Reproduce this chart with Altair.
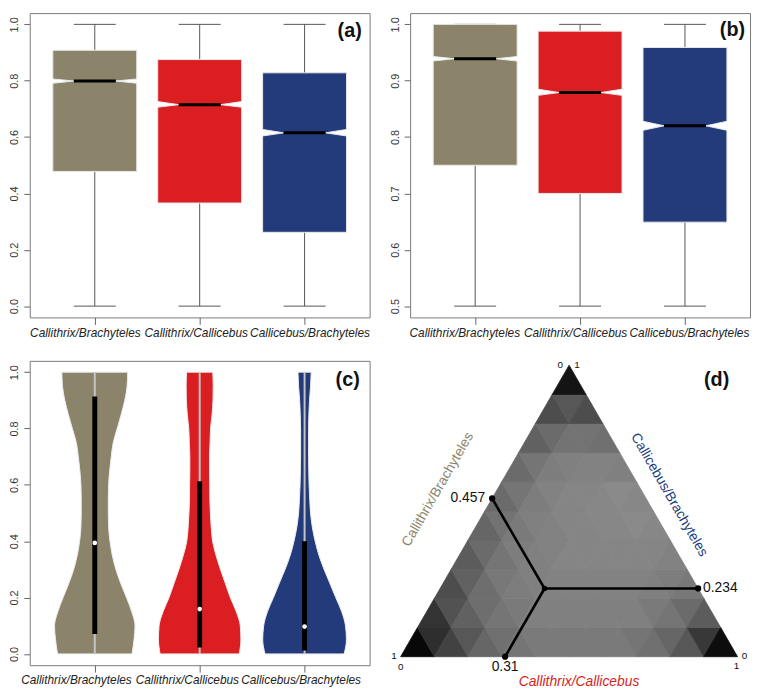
import altair as alt
import pandas as pd

# ---------------- data ----------------
groups = ["Callithrix/Brachyteles", "Callithrix/Callicebus", "Callicebus/Brachyteles"]
positions = [1, 2, 3]
colors = ["#8C846A", "#DA1E22", "#233B7B"]

# panel (a): notched boxplots
a_min = [0.0, 0.0, 0.0]
a_q1 = [0.478, 0.366, 0.262]
a_notch_lo = [0.791, 0.706, 0.604]
a_median = [0.799, 0.715, 0.615]
a_notch_hi = [0.806, 0.726, 0.627]
a_q3 = [0.908, 0.875, 0.828]
a_max = [1.0, 1.0, 1.0]

# panel (b): notched boxplots
b_min = [0.5, 0.5, 0.5]
b_q1 = [0.750, 0.700, 0.649]
b_notch_lo = [0.935, 0.874, 0.812]
b_median = [0.939, 0.879, 0.820]
b_notch_hi = [0.943, 0.885, 0.828]
b_q3 = [1.000, 0.988, 0.959]
b_max = [1.0, 1.0, 1.0]

# panel (c): violins (half widths in x units, read at each y level)
violin_y = [0.00, 0.05, 0.10, 0.15, 0.20, 0.25, 0.30, 0.35, 0.40, 0.45, 0.50,
            0.55, 0.60, 0.65, 0.70, 0.75, 0.80, 0.85, 0.90, 0.95, 1.00]
violin_tan = [0.355, 0.374, 0.384, 0.352, 0.302, 0.248, 0.201, 0.167, 0.145, 0.132, 0.129,
              0.129, 0.132, 0.142, 0.157, 0.176, 0.214, 0.252, 0.286, 0.308, 0.314]
violin_red = [0.377, 0.393, 0.387, 0.349, 0.292, 0.245, 0.198, 0.156, 0.123, 0.110, 0.102,
              0.097, 0.096, 0.094, 0.094, 0.099, 0.104, 0.118, 0.127, 0.129, 0.125]
violin_blue = [0.377, 0.399, 0.390, 0.354, 0.297, 0.242, 0.186, 0.137, 0.101, 0.074, 0.057,
               0.049, 0.043, 0.040, 0.038, 0.038, 0.038, 0.041, 0.047, 0.057, 0.063]
c_min = [0.0, 0.0, 0.0]
c_q1 = [0.071, 0.023, 0.012]
c_median = [0.394, 0.159, 0.097]
c_q3 = [0.914, 0.613, 0.400]
c_max = [1.0, 1.0, 1.0]

# panel (d): ternary plot
tern_left = 0.457    # Callithrix/Brachyteles
tern_right = 0.234   # Callicebus/Brachyteles
tern_bottom = 0.31   # Callithrix/Callicebus
# point cloud density (share of ink) on a 10-row triangular lattice, bottom row first,
# cells left to right alternating upward / downward triangles
density_rows = [
    [0.97, 0.82, 0.74, 0.66, 0.60, 0.56, 0.54, 0.52, 0.52, 0.52, 0.52, 0.52, 0.52, 0.54, 0.56, 0.60, 0.66, 0.78, 0.95],
    [0.80, 0.68, 0.62, 0.57, 0.54, 0.52, 0.50, 0.50, 0.50, 0.50, 0.50, 0.50, 0.50, 0.52, 0.54, 0.58, 0.64],
    [0.70, 0.62, 0.57, 0.53, 0.51, 0.50, 0.49, 0.49, 0.49, 0.49, 0.49, 0.49, 0.50, 0.51, 0.53],
    [0.64, 0.58, 0.54, 0.51, 0.50, 0.49, 0.48, 0.48, 0.48, 0.48, 0.48, 0.48, 0.49],
    [0.60, 0.55, 0.52, 0.50, 0.49, 0.48, 0.48, 0.47, 0.47, 0.46, 0.47],
    [0.58, 0.54, 0.51, 0.49, 0.48, 0.48, 0.47, 0.46, 0.47],
    [0.58, 0.54, 0.51, 0.50, 0.49, 0.49, 0.50],
    [0.62, 0.58, 0.55, 0.55, 0.56],
    [0.70, 0.66, 0.70],
    [0.92],
]

# ---------------- styling helpers ----------------
FONT = "Liberation Sans"
WHISKER = "#555555"


def label_expr():
    return ("datum.value == 1 ? '%s' : datum.value == 2 ? '%s' : '%s'"
            % (groups[0], groups[1], groups[2]))


def x_axis(offsets):
    return alt.Axis(
        values=positions, labelExpr=label_expr(), title=None,
        labelFontStyle="italic", labelFontSize=12, labelFont=FONT, labelColor="#222222",
        tickSize=7, tickColor="#666666", labelPadding=3, domain=False, grid=False,
        labelOverlap=False, labelFlush=False, labelBound=False,
        labelOffset={"condition": [{"test": "datum.value == 1", "value": offsets[0]},
                                   {"test": "datum.value == 2", "value": offsets[1]}],
                     "value": offsets[2]},
    )


def y_axis(ticks):
    return alt.Axis(
        values=ticks, format=".1f", title=None, labelAngle=270, labelAlign="center",
        labelBaseline="bottom", labelFontSize=11, labelFont=FONT, labelColor="#333333",
        tickSize=6, tickColor="#666666", labelPadding=4, domain=False, grid=False,
    )


XS = alt.Scale(domain=[0.38, 3.62], nice=False, zero=False)
W, H = 344, 308


def letter(txt, px, py):
    return alt.Chart(pd.DataFrame({"t": [txt]})).mark_text(
        align="right", baseline="middle", fontSize=20, fontWeight="bold", font=FONT, color="#111111"
    ).encode(x=alt.value(px), y=alt.value(py), text="t:N")


def box_panel(mins, q1, nlo, med, nhi, q3, maxs, ydom, yticks, offsets, tag, lx, ly):
    ys = alt.Scale(domain=ydom, nice=False, zero=False)
    xa, ya = x_axis(offsets), y_axis(yticks)
    stats = pd.DataFrame({"g": groups, "pos": positions, "lo": mins, "q1": q1, "med": med,
                          "q3": q3, "hi": maxs})
    stats["cl"] = stats["pos"] - 0.2
    stats["cr"] = stats["pos"] + 0.2
    rows = []
    for i, g in enumerate(groups):
        for yv, hw in zip([q1[i], nlo[i], med[i], nhi[i], q3[i]], [0.4, 0.4, 0.2, 0.4, 0.4]):
            rows.append({"g": g, "y": yv, "left": positions[i] - hw, "right": positions[i] + hw})
    shape = pd.DataFrame(rows)
    cscale = alt.Scale(domain=groups, range=colors)

    base = alt.Chart(stats)
    w_lo = base.mark_rule(color=WHISKER, strokeWidth=1).encode(
        x=alt.X("pos:Q", scale=XS, axis=xa), y=alt.Y("lo:Q", scale=ys, axis=ya), y2="q1:Q")
    w_hi = base.mark_rule(color=WHISKER, strokeWidth=1).encode(
        x=alt.X("pos:Q", scale=XS, axis=xa), y=alt.Y("q3:Q", scale=ys, axis=ya), y2="hi:Q")
    cap_lo = base.mark_rule(color=WHISKER, strokeWidth=1).encode(
        x=alt.X("cl:Q", scale=XS, axis=xa), x2="cr:Q", y=alt.Y("lo:Q", scale=ys, axis=ya))
    cap_hi = base.mark_rule(color=WHISKER, strokeWidth=1).encode(
        x=alt.X("cl:Q", scale=XS, axis=xa), x2="cr:Q", y=alt.Y("hi:Q", scale=ys, axis=ya))
    box = alt.Chart(shape).mark_area(orient="horizontal", stroke="#e9e9e9", strokeWidth=1,
                                      opacity=1).encode(
        y=alt.Y("y:Q", scale=ys, axis=ya), x=alt.X("left:Q", scale=XS, axis=xa), x2="right:Q",
        color=alt.Color("g:N", scale=cscale, legend=None), detail="g:N")
    medline = base.mark_rule(color="#000000", strokeWidth=3).encode(
        x=alt.X("cl:Q", scale=XS, axis=xa), x2="cr:Q", y=alt.Y("med:Q", scale=ys, axis=ya))
    return alt.layer(w_lo, w_hi, cap_lo, cap_hi, box, medline, letter(tag, lx, ly)).properties(
        width=W, height=H)


# ---------------- panel a, b ----------------
pa = box_panel(a_min, a_q1, a_notch_lo, a_median, a_notch_hi, a_q3, a_max,
               [-0.04, 1.04], [0.0, 0.2, 0.4, 0.6, 0.8, 1.0], [-10, -4, 5], "(a)", 336, 18)
pb = box_panel(b_min, b_q1, b_notch_lo, b_median, b_notch_hi, b_q3, b_max,
               [0.48, 1.02], [0.5, 0.6, 0.7, 0.8, 0.9, 1.0], [-11, -5, 4], "(b)", 339, 17)

# ---------------- panel c ----------------
ys_c = alt.Scale(domain=[-0.04, 1.04], nice=False, zero=False)
xa_c, ya_c = x_axis([-19, -13, -4]), y_axis([0.0, 0.2, 0.4, 0.6, 0.8, 1.0])
vrows = []
for i, (g, hws) in enumerate(zip(groups, [violin_tan, violin_red, violin_blue])):
    for yv, hw in zip(violin_y, hws):
        vrows.append({"g": g, "y": yv, "left": positions[i] - hw, "right": positions[i] + hw})
vdf = pd.DataFrame(vrows)
cstats = pd.DataFrame({"g": groups, "pos": positions, "lo": c_min, "q1": c_q1, "med": c_median,
                       "q3": c_q3, "hi": c_max})
violins = alt.Chart(vdf).mark_area(orient="horizontal", interpolate="monotone", stroke="#eeeeee",
                                   strokeWidth=1, opacity=1).encode(
    y=alt.Y("y:Q", scale=ys_c, axis=ya_c), x=alt.X("left:Q", scale=XS, axis=xa_c), x2="right:Q",
    color=alt.Color("g:N", scale=alt.Scale(domain=groups, range=colors), legend=None), detail="g:N")
cb = alt.Chart(cstats)
vwhisk = cb.mark_rule(color="#c4c4c4", strokeWidth=2).encode(
    x=alt.X("pos:Q", scale=XS, axis=xa_c), y=alt.Y("lo:Q", scale=ys_c, axis=ya_c), y2="hi:Q")
vbox = cb.mark_rule(color="#000000", strokeWidth=5).encode(
    x=alt.X("pos:Q", scale=XS, axis=xa_c), y=alt.Y("q1:Q", scale=ys_c, axis=ya_c), y2="q3:Q")
vmed = cb.mark_circle(color="#ffffff", opacity=1, size=22).encode(
    x=alt.X("pos:Q", scale=XS, axis=xa_c), y=alt.Y("med:Q", scale=ys_c, axis=ya_c))
pc = alt.layer(violins, vwhisk, vbox, vmed, letter("(c)", 334, 19)).properties(width=W, height=H)

# ---------------- panel d (ternary) ----------------
TX = alt.Scale(domain=[0, 1], range=[-9.6, 331.4], nice=False, zero=False)
TY = alt.Scale(domain=[0, 1], range=[299.4, 4.4], nice=False, zero=False)
UP = "M-1,0.57735L1,0.57735L0,-1.1547Z"
DOWN = "M-1,-0.57735L1,-0.57735L0,1.1547Z"
N = len(density_rows)
cells = []
for r, row in enumerate(density_rows):
    for k, cov in enumerate(row):
        j = k // 2
        if k % 2 == 0:
            cx, cy, shp = (j + 0.5) / N + r / (2 * N), (r + 1 / 3) / N, UP
        else:
            cx, cy, shp = (j + 1) / N + r / (2 * N), (r + 2 / 3) / N, DOWN
        gv = int(round(255 * (1 - cov)))
        cells.append({"tx": cx, "ty": cy, "shp": shp, "fill": "#%02x%02x%02x" % (gv, gv, gv)})
cdf = pd.DataFrame(cells)
side_px = 341.0 / N
cloud = alt.Chart(cdf).mark_point(filled=True, opacity=1, strokeWidth=0.8).encode(
    x=alt.X("tx:Q", scale=TX, axis=None), y=alt.Y("ty:Q", scale=TY, axis=None),
    shape=alt.Shape("shp:N", scale=None), fill=alt.Fill("fill:N", scale=None),
    stroke=alt.Stroke("fill:N", scale=None), size=alt.value(side_px ** 2))

cx0, cy0 = tern_bottom + tern_right / 2, tern_right
ends = pd.DataFrame({
    "name": ["left", "right", "bottom"],
    "val": [tern_left, tern_right, tern_bottom],
    "ex": [(1 - tern_left) / 2, 1 - tern_right / 2, tern_bottom],
    "ey": [1 - tern_left, tern_right, 0.0],
})
ends["cx"] = cx0
ends["cy"] = cy0
ends["lab"] = ends["val"].map(lambda v: "%g" % v)
segs = alt.Chart(ends).mark_rule(color="#000000", strokeWidth=2.6).encode(
    x=alt.X("cx:Q", scale=TX, axis=None), y=alt.Y("cy:Q", scale=TY, axis=None),
    x2="ex:Q", y2="ey:Q")
enddots = alt.Chart(ends).mark_circle(color="#000000", opacity=1, size=40).encode(
    x=alt.X("ex:Q", scale=TX, axis=None), y=alt.Y("ey:Q", scale=TY, axis=None))
centdot = alt.Chart(ends.head(1)).mark_circle(color="#000000", opacity=1, size=30).encode(
    x=alt.X("cx:Q", scale=TX, axis=None), y=alt.Y("cy:Q", scale=TY, axis=None))


def tern_text(df, xf, yf, **kw):
    return alt.Chart(df).mark_text(font=FONT, **kw).encode(
        x=alt.X(xf, scale=TX, axis=None), y=alt.Y(yf, scale=TY, axis=None), text="lab:N")


lab_left = tern_text(ends[ends.name == "left"], "ex:Q", "ey:Q", align="right", baseline="middle",
                     dx=-7, fontSize=14, color="#111111")
lab_right = tern_text(ends[ends.name == "right"], "ex:Q", "ey:Q", align="left", baseline="middle",
                      dx=5, fontSize=14, color="#111111")
lab_bottom = tern_text(ends[ends.name == "bottom"], "ex:Q", "ey:Q", align="center",
                       baseline="middle", dy=10, fontSize=14, color="#111111")

corners = pd.DataFrame({"vx": [0.0, 0.5, 1.0], "vy": [0.0, 1.0, 0.0]})
corner_specs = [  # (corner index, label, dx, dy, align)
    (0, "1", -4, -1, "right"), (0, "0", 0, 10, "center"),
    (1, "0", -9, 0, "center"), (1, "1", 8, 0, "center"),
    (2, "0", 7, -1, "center"), (2, "1", -1, 9, "center"),
]
corner_layers = []
for ci, lab, dx, dy, al in corner_specs:
    d = corners.iloc[[ci]].copy()
    d["lab"] = lab
    corner_layers.append(tern_text(d, "vx:Q", "vy:Q", align=al, baseline="middle", dx=dx, dy=dy,
                                   fontSize=10, color="#111111"))

titles = pd.DataFrame({"mx": [0.25, 0.75, 0.5], "my": [0.5, 0.5, 0.0], "lab": groups[:1] + groups[2:] + groups[1:2]})
t_left = tern_text(titles.iloc[[0]], "mx:Q", "my:Q", align="center", baseline="middle", angle=300,
                   dx=-5, dy=-52, fontSize=14, color=colors[0])
t_right = tern_text(titles.iloc[[1]], "mx:Q", "my:Q", align="center", baseline="middle", angle=60,
                    dx=-6, dy=-22, fontSize=14, color=colors[2])
t_bottom = tern_text(titles.iloc[[2]], "mx:Q", "my:Q", align="center", baseline="middle",
                     dx=10, dy=26, fontSize=14, fontStyle="italic", color=colors[1])

pd_chart = alt.layer(cloud, segs, enddots, centdot, lab_left, lab_right, lab_bottom,
                     *corner_layers, t_left, t_right, t_bottom,
                     letter("(d)", 323, 19)).properties(
    width=W, height=H, view=alt.ViewBackground(stroke="transparent"))

chart = alt.concat(pa, pb, pc, pd_chart, columns=2, spacing={"row": 44, "column": 41},
                   bounds="flush").properties(padding=0, background="#ffffff").configure_view(
    stroke="#7a7a7a", strokeWidth=1)

chart.save("out.html", embed_options={"renderer": "svg", "actions": False})
